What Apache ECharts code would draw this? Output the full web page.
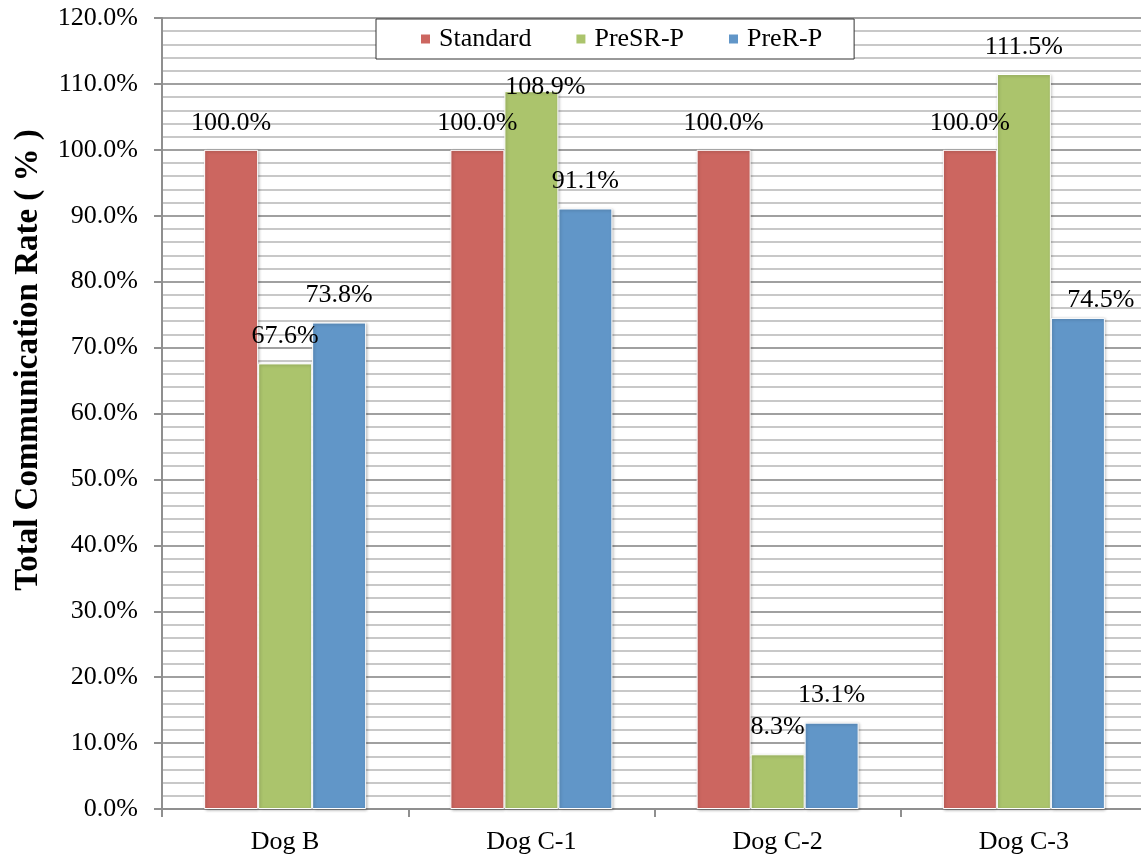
<!DOCTYPE html>
<html>
<head>
<meta charset="utf-8">
<title>Total Communication Rate</title>
<script src="https://cdn.jsdelivr.net/npm/echarts@6/dist/echarts.min.js"></script>
<style>
  html, body { margin: 0; padding: 0; background: #fff; overflow: hidden; }
  /* the plot runs a few pixels past the right edge of the window */
  #chart { width: 1147px; height: 857px; }
</style>
</head>
<body>
<div id="chart"></div>
<script>
// Categories and series values (percent of the standard protocol)
const categories = ['Dog B', 'Dog C-1', 'Dog C-2', 'Dog C-3'];
const seriesNames = ['Standard', 'PreSR-P', 'PreR-P'];
const standardValues = [100.0, 100.0, 100.0, 100.0];
const preSRValues = [67.6, 108.9, 8.3, 111.5];
const preRValues = [73.8, 91.1, 13.1, 74.5];
const yAxisTitle = 'Total Communication Rate ( % )';

const FONT = '"Liberation Serif", "Times New Roman", serif';
const colors = ['#CC6660', '#ABC46C', '#6196C8'];

// A couple of labels are nudged so they do not collide with the legend / neighbours
const labelNudge = {
  'PreSR-P|Dog C-1': [14, 23],
  'PreR-P|Dog C-3': [23, 9]
};

function buildData(name, values) {
  return values.map((v, i) => {
    const nudge = labelNudge[name + '|' + categories[i]];
    return nudge ? { value: v, label: { offset: nudge } } : v;
  });
}

const valueSets = [standardValues, preSRValues, preRValues];

const series = seriesNames.map((name, k) => ({
  name: name,
  type: 'bar',
  barWidth: 54,
  barGap: '0%',
  data: buildData(name, valueSets[k]),
  itemStyle: {
    color: colors[k],
    borderColor: '#ffffff',
    borderWidth: 1,
    shadowColor: 'rgba(0,0,0,0.28)',
    shadowBlur: 3,
    shadowOffsetX: 1,
    shadowOffsetY: 1
  },
  label: {
    show: true,
    position: 'top',
    distance: 14,
    color: '#000',
    fontFamily: FONT,
    fontSize: 26,
    formatter: p => p.value.toFixed(1) + '%'
  }
}));

const chart = echarts.init(document.getElementById('chart'), null, { renderer: 'canvas' });

chart.setOption({
  animation: false,
  backgroundColor: '#ffffff',
  textStyle: { fontFamily: FONT },
  legend: {
    data: seriesNames,
    left: 376,
    top: 19,
    orient: 'horizontal',
    icon: 'rect',
    itemWidth: 11,
    itemHeight: 11,
    itemGap: 43,
    padding: [7, 32, 7, 43],
    borderColor: '#333333',
    borderWidth: 1,
    backgroundColor: '#ffffff',
    textStyle: { fontFamily: FONT, fontSize: 26, color: '#000', padding: [0, 0, 0, 3] }
  },
  grid: {
    left: 162,
    top: 18,
    right: 0,
    bottom: 48,
    containLabel: false
  },
  xAxis: {
    type: 'category',
    data: categories,
    axisLine: { show: true, lineStyle: { color: '#8f8f8f', width: 2 } },
    axisTick: { show: true, length: 8, lineStyle: { color: '#8f8f8f', width: 2 } },
    axisLabel: { color: '#000', fontFamily: FONT, fontSize: 26, margin: 20 },
    splitLine: { show: false }
  },
  yAxis: {
    type: 'value',
    min: 0,
    max: 120,
    interval: 10,
    axisLine: { show: true, lineStyle: { color: '#8f8f8f', width: 2 } },
    axisTick: { show: true, length: 8, lineStyle: { color: '#8f8f8f', width: 2 } },
    axisLabel: {
      color: '#000',
      fontFamily: FONT,
      fontSize: 26,
      margin: 24,
      formatter: v => v.toFixed(1) + '%'
    },
    splitLine: { show: true, lineStyle: { color: '#a0a0a0', width: 2 } },
    minorTick: { show: false, splitNumber: 5 },
    minorSplitLine: { show: true, lineStyle: { color: '#c8c8c8', width: 2 } }
  },
  graphic: [{
    type: 'text',
    rotation: Math.PI / 2,
    x: 28,
    y: 360,
    style: {
      text: yAxisTitle,
      fontFamily: FONT,
      fontWeight: 'bold',
      fontSize: 33,
      fill: '#000',
      align: 'center',
      verticalAlign: 'middle'
    }
  }],
  series: series
});
</script>
</body>
</html>
